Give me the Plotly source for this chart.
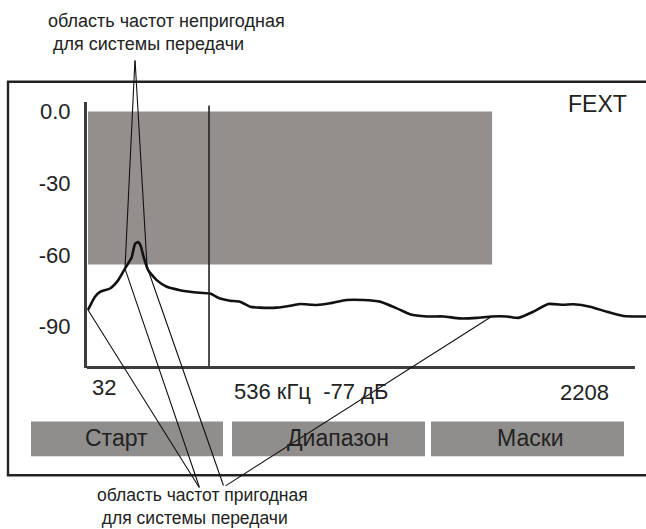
import plotly.graph_objects as go

# ---------------- data ----------------
FREQ_KHZ = [32, 61, 82, 124, 158, 186, 214, 228, 241, 251, 262, 283, 318, 360, 415, 498,
            540, 582, 623, 665, 707, 748, 818, 887, 915, 984, 1040, 1109, 1179, 1248, 1318,
            1373, 1443, 1512, 1581, 1651, 1713, 1776, 1824, 1887, 1949, 2012, 2054, 2123,
            2192, 2262, 2356]
LEVEL_DB = [-83.0, -77.5, -75.4, -74.0, -70.5, -65.7, -60.9, -55.3, -54.6, -56.0, -60.2,
            -66.4, -70.5, -73.3, -74.7, -75.8, -76.1, -78.2, -79.1, -79.5, -81.6, -82.0,
            -82.0, -81.0, -80.5, -80.9, -80.2, -78.8, -78.8, -79.5, -82.3, -84.8, -85.7,
            -85.7, -86.5, -86.3, -85.7, -85.7, -86.3, -83.7, -80.5, -80.8, -80.6, -81.6,
            -83.7, -85.5, -85.7]
Y_TICKS = [0, -30, -60, -90]
Y_TICK_TEXT = ["0.0", "-30", "-60", "-90"]
MASK_FREQ = [32, 1715]
MASK_DB = [0, -64]
MARKER_FREQ = 536
MARKER_DB = -77
F_START, F_END = 32, 2208
AXIS_END_KHZ = 2310
MODE = "FEXT"
BUTTONS = ["Старт", "Диапазон", "Маски"]
TOP_NOTE = ["область частот непригодная", "для системы передачи"]
BOTTOM_NOTE = ["область частот пригодная", "для системы передачи"]
UNFIT_PTS = [(186, -65.7), (278, -65.0)]
FIT_PTS_LEFT = [(32, -83.0), (186, -65.7)]
FIT_PTS_RIGHT = [(278, -65.0), (1713, -85.7)]

# ---------------- geometry ----------------
W, H = 646, 529
PX_L, PX_R, PX_T, PX_B = 87, 646, 100, 367
X_RANGE = [27.8, 2356]
Y_RANGE = [-107.1, 4.17]
FONT = "Liberation Sans, Arial, sans-serif"
DARK = "#222222"


def px(x):
    return x / W


def py(y):
    return 1 - y / H


def to_px(f, db):
    x = PX_L + (f - X_RANGE[0]) / (X_RANGE[1] - X_RANGE[0]) * (PX_R - PX_L)
    y = PX_T + (Y_RANGE[1] - db) / (Y_RANGE[1] - Y_RANGE[0]) * (PX_B - PX_T)
    return x, y


fig = go.Figure()
fig.add_trace(go.Scatter(x=FREQ_KHZ, y=LEVEL_DB, mode="lines",
                         line=dict(color="#111111", width=2.6, shape="spline", smoothing=0.5),
                         hoverinfo="skip", showlegend=False))

shapes = []
shapes.append(dict(type="rect", xref="x", yref="y", x0=MASK_FREQ[0], x1=MASK_FREQ[1],
                   y0=MASK_DB[0], y1=MASK_DB[1], fillcolor="#948f8c", line=dict(width=0),
                   layer="below"))
shapes.append(dict(type="line", xref="x", yref="y domain", x0=MARKER_FREQ, x1=MARKER_FREQ,
                   y0=0, y1=0.985, line=dict(color=DARK, width=1.6)))
shapes.append(dict(type="line", xref="x", yref="y domain", x0=X_RANGE[0], x1=AXIS_END_KHZ,
                   y0=0, y1=0, line=dict(color="#3c3c3c", width=3)))
shapes.append(dict(type="rect", xref="paper", yref="paper", x0=px(8), x1=px(660),
                   y0=py(80), y1=py(475), line=dict(color=DARK, width=2.4),
                   fillcolor="rgba(0,0,0,0)", layer="below"))
BTN_BOX = [(31, 223), (232, 425), (431, 624)]
BTN_TXT_X = [116, 338, 530]
for (x0, x1) in BTN_BOX:
    shapes.append(dict(type="rect", xref="paper", yref="paper", x0=px(x0), x1=px(x1),
                       y0=py(421), y1=py(456), fillcolor="#908e8c", line=dict(width=0),
                       layer="below"))

annotations = []


def pointer(pt, tail):
    hx, hy = to_px(*pt)
    annotations.append(dict(x=pt[0], y=pt[1], xref="x", yref="y", text="",
                            showarrow=True, arrowhead=0, arrowwidth=1.1,
                            arrowcolor="#111111", ax=tail[0] - hx, ay=tail[1] - hy,
                            standoff=0, startstandoff=0))


for p in UNFIT_PTS:
    pointer(p, (135, 58))
for p in FIT_PTS_LEFT:
    pointer(p, (200, 488))
for p in FIT_PTS_RIGHT:
    pointer(p, (224, 486))


def label(text, x, y, size, anchor="left", yanchor="middle"):
    annotations.append(dict(text=text, x=px(x), y=py(y), xref="paper", yref="paper",
                            xanchor=anchor, yanchor=yanchor, showarrow=False, align="left",
                            borderpad=0,
                            font=dict(family=FONT, size=size, color=DARK)))


label(MODE, 597, 102, 23, "center")
label(str(F_START), 91, 387, 22)
label(f"{MARKER_FREQ} кГц  {MARKER_DB} дБ", 233, 391, 22)
label(str(F_END), 584, 392, 22, "center")
for t, x in zip(BUTTONS, BTN_TXT_X):
    label(t, x, 438, 23, "center")
label(TOP_NOTE[0] + "<br>\u00a0" + TOP_NOTE[1], 47, 31, 18)
label(BOTTOM_NOTE[0] + "<br>\u00a0" + BOTTOM_NOTE[1], 96, 506, 17.5)

fig.update_layout(
    width=W, height=H, margin=dict(l=0, r=0, t=0, b=0),
    paper_bgcolor="white", plot_bgcolor="white",
    xaxis=dict(domain=[px(PX_L), px(PX_R)], range=X_RANGE, showgrid=False, zeroline=False,
               showticklabels=False, showline=False, fixedrange=True),
    yaxis=dict(domain=[py(PX_B), py(PX_T)], range=Y_RANGE, showgrid=False, zeroline=False,
               tickvals=Y_TICKS, ticktext=Y_TICK_TEXT, ticks="", showline=True,
               linecolor="#3c3c3c", linewidth=3, ticklabelstandoff=9,
               tickfont=dict(family=FONT, size=22, color=DARK), fixedrange=True),
    shapes=shapes, annotations=annotations, showlegend=False,
)

fig.write_html("out.html", post_script="document.body.style.margin='0';",
               config={"displayModeBar": False})
